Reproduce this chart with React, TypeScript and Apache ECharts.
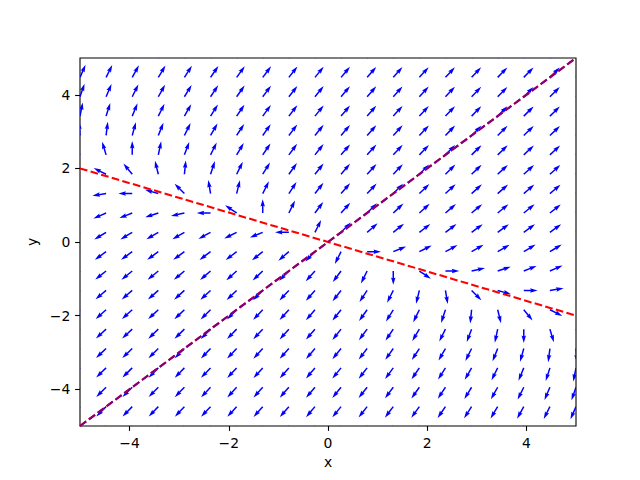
import React, { useEffect, useRef } from 'react';
import * as echarts from 'echarts';

// Sample grid (20 points per axis, -5 .. 5)
const GRID_VALUES = [
  -5, -4.474, -3.947, -3.421, -2.895, -2.368, -1.842, -1.316, -0.789, -0.263,
  0.263, 0.789, 1.316, 1.842, 2.368, 2.895, 3.421, 3.947, 4.474, 5,
];
// Linear system read from the field: dx/dt = 3x + 5y, dy/dt = 2x + 6y
const MATRIX_ROW_X = [3, 5];
const MATRIX_ROW_Y = [2, 6];
// Dashed reference lines
const LINE_A_X = [-5, 5];
const LINE_A_Y = [2, -2];
const LINE_B_X = [-5, 5];
const LINE_B_Y = [-5, 5];
const TICKS = [-4, -2, 0, 2, 4];

const fmt = (v: number) => (v < 0 ? '\u2212' + Math.abs(v) : String(v));

export default function App() {
  const ref = useRef<HTMLDivElement>(null);
  useEffect(() => {
    if (!ref.current) return;
    const chart = echarts.init(ref.current, undefined, { renderer: 'svg' });
    const field: number[][] = [];
    for (const y of GRID_VALUES) {
      for (const x of GRID_VALUES) {
        const u = MATRIX_ROW_X[0] * x + MATRIX_ROW_X[1] * y;
        const v = MATRIX_ROW_Y[0] * x + MATRIX_ROW_Y[1] * y;
        const n = Math.hypot(u, v) || 1;
        field.push([x, y, u / n, v / n]);
      }
    }
    const font = 'DejaVu Sans';
    const axisCommon = {
      type: 'value' as const,
      min: -5,
      max: 5,
      splitLine: { show: false },
      axisLine: { show: false, onZero: false },
      axisTick: {
        show: true,
        inside: false,
        length: 4.9,
        customValues: TICKS,
        lineStyle: { color: '#000', width: 1.1 },
      },
      axisLabel: {
        customValues: TICKS,
        formatter: fmt,
        color: '#000',
        fontSize: 13.9,
        fontFamily: font,
        margin: 9.7,
      },
      nameLocation: 'middle' as const,
      nameTextStyle: { color: '#000', fontSize: 13.9, fontFamily: font },
    };
    const lineSeries = (xs: number[], ys: number[], color: string) => ({
      type: 'line',
      data: xs.map((x, i) => [x, ys[i]]),
      showSymbol: false,
      symbol: 'none',
      lineStyle: { color, width: 2.08, type: [7.7, 3.33] },
      z: 3,
      silent: true,
    });
    chart.setOption({
      animation: false,
      grid: {
        left: 80,
        right: 64,
        top: 58,
        bottom: 54,
        show: true,
        borderColor: '#000',
        borderWidth: 1.1,
        containLabel: false,
      },
      xAxis: { ...axisCommon, name: 'x', nameGap: 25 },
      yAxis: { ...axisCommon, name: 'y', nameGap: 32, nameRotate: 90 },
      series: [
        {
          type: 'custom',
          clip: true,
          z: 1,
          encode: { x: 0, y: 1 },
          data: field,
          renderItem: (params: any, api: any) => {
            const x = api.value(0);
            const y = api.value(1);
            const u = api.value(2);
            const v = api.value(3);
            const p = api.coord([x, y]);
            const ang = Math.atan2(-v, u);
            const w = 1.49;
            const L = 13.8 / w;
            const c = Math.cos(ang);
            const s = Math.sin(ang);
            const base = [
              [0, 0.5],
              [L - 4.5, 0.5],
              [L - 5, 1.5],
              [L, 0],
              [L - 5, -1.5],
              [L - 4.5, -0.5],
              [0, -0.5],
            ];
            const pts = base.map(([a, b]) => {
              const ax = a * w;
              const by = b * w;
              return [p[0] + ax * c - by * s, p[1] + ax * s + by * c];
            });
            return {
              type: 'polygon',
              shape: { points: pts },
              style: { fill: '#0000ff' },
            };
          },
        },
        lineSeries(LINE_A_X, LINE_A_Y, '#ff0000'),
        lineSeries(LINE_B_X, LINE_B_Y, '#ff0000'),
        lineSeries(LINE_B_X, LINE_B_Y, '#800080'),
      ],
    });
    return () => chart.dispose();
  }, []);
  return (
    <div
      ref={ref}
      style={{ position: 'fixed', left: 0, top: 0, width: 640, height: 480, background: '#fff' }}
    />
  );
}
